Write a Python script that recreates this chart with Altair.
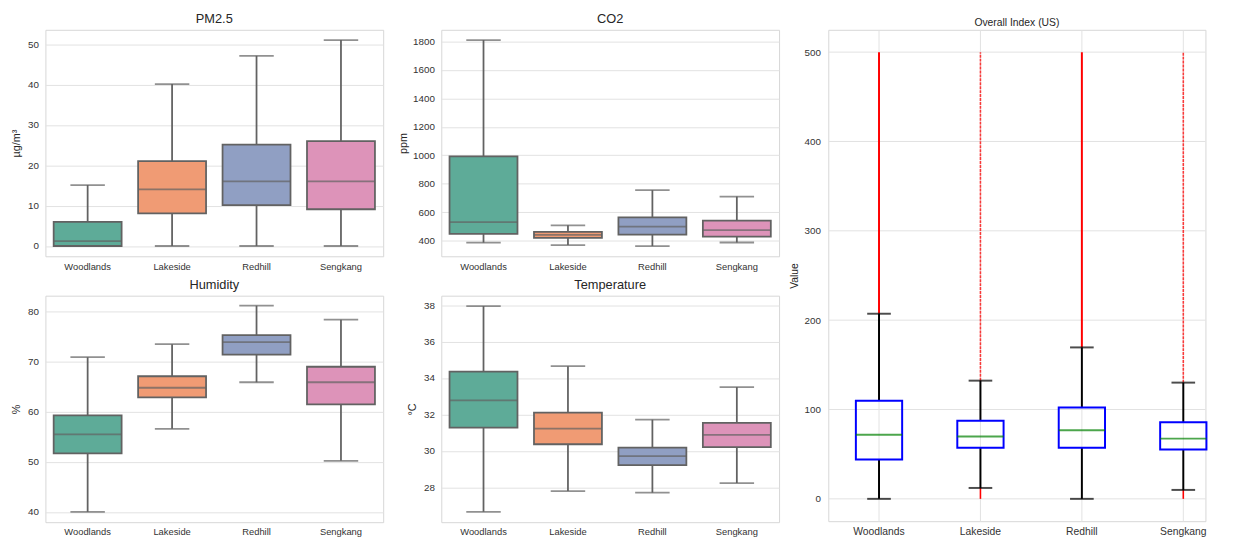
import altair as alt
import pandas as pd

stations = ["Woodlands", "Lakeside", "Redhill", "Sengkang"]
box_colors = ["#5eab98", "#f09b74", "#909fc3", "#dd93b9"]

# PM2.5 (µg/m³)
pm25_min = [0, 0, 0, 0]
pm25_q1 = [0, 8.1, 10.1, 9.1]
pm25_med = [1.2, 14.0, 16.0, 16.0]
pm25_q3 = [6.0, 21.0, 25.1, 26.0]
pm25_max = [15.1, 40.1, 47.1, 51.0]
pm25_ticks = [0, 10, 20, 30, 40, 50]

# CO2 (ppm)
co2_min = [386, 369, 362, 387]
co2_q1 = [447, 420, 443, 429]
co2_med = [530, 440, 499, 474]
co2_q3 = [992, 461, 564, 541]
co2_max = [1810, 508, 755, 710]
co2_ticks = [400, 600, 800, 1000, 1200, 1400, 1600, 1800]

# Humidity (%)
hum_min = [40.0, 56.6, 65.9, 50.2]
hum_q1 = [51.7, 62.9, 71.4, 61.5]
hum_med = [55.5, 64.8, 73.9, 65.9]
hum_q3 = [59.3, 67.1, 75.3, 69.0]
hum_max = [70.9, 73.5, 81.2, 78.4]
hum_ticks = [40, 50, 60, 70, 80]

# Temperature (°C)
temp_min = [26.65, 27.79, 27.70, 28.23]
temp_q1 = [31.27, 30.36, 29.21, 30.20]
temp_med = [32.77, 31.22, 29.71, 30.88]
temp_q3 = [34.35, 32.10, 30.18, 31.53]
temp_max = [37.95, 34.65, 31.71, 33.50]
temp_ticks = [28, 30, 32, 34, 36, 38]

# Overall Index (US)
aqi_min = [0, 12.2, 0, 10.0]
aqi_q1 = [44.1, 57.3, 57.3, 55.2]
aqi_med = [71.7, 69.9, 76.7, 67.4]
aqi_q3 = [109.7, 87.5, 102.2, 85.7]
aqi_max = [207.2, 132.3, 169.5, 130.1]
aqi_outlier_top = [500, 500, 500, 500]
aqi_outlier_bottom = [0, 0, 0, 0]
aqi_ticks = [0, 100, 200, 300, 400, 500]
dense_outlier_stations = ["Woodlands", "Redhill"]

GRAY = "#626262"
FONT = "Liberation Sans"
LW = 1.8
GRID = "#e2e2e2"


def seaborn_panel(title, unit, mins, q1s, meds, q3s, maxs, domain, ticks, extent, height):
    df = pd.DataFrame({"station": stations, "lo": mins, "q1": q1s,
                       "med": meds, "q3": q3s, "hi": maxs})
    x = alt.X("station:N", sort=stations, title=None,
              scale=alt.Scale(paddingInner=0, paddingOuter=0),
              axis=alt.Axis(labelAngle=0, ticks=False, domain=False, grid=False,
                            labelPadding=5, labelFontSize=9.5))
    yscale = alt.Scale(domain=domain, nice=False, zero=False)
    yaxis = alt.Axis(values=ticks, format="d", ticks=False, domain=False, grid=True,
                     labelPadding=7, labelFontSize=10, minExtent=extent, maxExtent=extent,
                     titlePadding=4, titleFontSize=11)

    def Y(f):
        return alt.Y(f, scale=yscale, axis=yaxis, title=unit)

    base = alt.Chart(df).encode(x=x)
    whisker = base.mark_rule(color=GRAY, strokeWidth=LW).encode(y=Y("lo:Q"), y2="hi:Q")
    box = base.mark_bar(size=69, stroke=GRAY, strokeWidth=LW).encode(
        y=Y("q1:Q"), y2="q3:Q",
        color=alt.Color("station:N", scale=alt.Scale(domain=stations, range=box_colors), legend=None))
    med = base.mark_tick(size=69, thickness=LW, color=GRAY, orient="horizontal").encode(y=Y("med:Q"))
    cap_lo = base.mark_tick(size=35, thickness=LW, color=GRAY, orient="horizontal").encode(y=Y("lo:Q"))
    cap_hi = base.mark_tick(size=35, thickness=LW, color=GRAY, orient="horizontal").encode(y=Y("hi:Q"))
    return alt.layer(whisker, box, med, cap_lo, cap_hi).properties(
        width=343, height=height,
        title=alt.TitleParams(title, fontSize=13, offset=4, anchor="middle", fontWeight="normal"))


H = 230
pm = seaborn_panel("PM2.5", "µg/m³", pm25_min, pm25_q1, pm25_med, pm25_q3, pm25_max,
                   [-2.55, 53.55], pm25_ticks, 20, H)
co2 = seaborn_panel("CO2", "ppm", co2_min, co2_q1, co2_med, co2_q3, co2_max,
                    [290, 1882], co2_ticks, 29, H)
hum = seaborn_panel("Humidity", "%", hum_min, hum_q1, hum_med, hum_q3, hum_max,
                    [37.94, 83.2], hum_ticks, 20, H)
temp = seaborn_panel("Temperature", "°C", temp_min, temp_q1, temp_med, temp_q3, temp_max,
                     [26.08, 38.52], temp_ticks, 20, H)

# Overall index panel (matplotlib-style boxplot)
RW = 383
adf = pd.DataFrame({"station": stations, "lo": aqi_min, "q1": aqi_q1, "med": aqi_med,
                    "q3": aqi_q3, "hi": aqi_max, "otop": aqi_outlier_top,
                    "obot": aqi_outlier_bottom})
gdf = pd.DataFrame({"tick": aqi_ticks})
ax = alt.X("station:N", sort=stations, title=None,
           scale=alt.Scale(range=[0, 412], paddingInner=0, paddingOuter=0),
           axis=alt.Axis(labelAngle=0, ticks=False, domain=False, grid=True, bandPosition=0.5,
                         labelPadding=6, labelFontSize=10.5))
ayscale = alt.Scale(domain=[-25, 525], nice=False, zero=False)
ayaxis = alt.Axis(values=aqi_ticks, ticks=False, domain=False, grid=False, labelPadding=8,
                  labelFontSize=10, minExtent=25, maxExtent=25, titlePadding=4, titleFontSize=10.5)


def AY(f):
    return alt.Y(f, scale=ayscale, axis=ayaxis, title="Value")


hgrid = alt.Chart(gdf).mark_rule(color=GRID, strokeWidth=1).encode(
    y=AY("tick:Q"), x=alt.value(0), x2=alt.value(RW))
abase = alt.Chart(adf).encode(x=ax)
dense = alt.FieldOneOfPredicate(field="station", oneOf=dense_outlier_stations)
sparse = alt.LogicalNotPredicate(**{"not": dense})
out_hi_d = abase.transform_filter(dense).mark_rule(color="#ff0000", strokeWidth=2).encode(
    y=AY("hi:Q"), y2="otop:Q")
out_hi_s = abase.transform_filter(sparse).mark_rule(
    color="#ff0000", strokeWidth=1.6, opacity=0.75, strokeDash=[3, 1]).encode(y=AY("hi:Q"), y2="otop:Q")
out_lo = abase.mark_rule(color="#ff0000", strokeWidth=1.6).encode(y=AY("obot:Q"), y2="lo:Q")
wh_lo = abase.mark_rule(color="black", strokeWidth=2).encode(y=AY("lo:Q"), y2="q1:Q")
wh_hi = abase.mark_rule(color="black", strokeWidth=2).encode(y=AY("q3:Q"), y2="hi:Q")
abox = abase.mark_bar(size=47, fillOpacity=0, stroke="#0000ff", strokeWidth=2).encode(
    y=AY("q1:Q"), y2="q3:Q")
amed = abase.mark_tick(size=47, thickness=2, color="#008000", orient="horizontal").encode(y=AY("med:Q"))
acap_lo = abase.mark_tick(size=24, thickness=2, color="black", orient="horizontal").encode(y=AY("lo:Q"))
acap_hi = abase.mark_tick(size=24, thickness=2, color="black", orient="horizontal").encode(y=AY("hi:Q"))
overall = alt.layer(hgrid, out_hi_d, out_hi_s, out_lo, wh_lo, wh_hi, abox, amed,
                    acap_lo, acap_hi).properties(
    width=RW, height=499,
    title=alt.TitleParams("Overall Index (US)", fontSize=10.5, offset=1, anchor="middle",
                          fontWeight="normal"))

left = alt.vconcat(alt.hconcat(pm, co2, spacing=13), alt.hconcat(hum, temp, spacing=22), spacing=7)
chart = alt.hconcat(left, overall, spacing=9).properties(
    padding={"left": 2, "top": 0, "right": 0, "bottom": 0},
    background="white",
).configure_view(
    stroke="#d6d6d6", strokeWidth=1
).configure_axis(
    gridColor=GRID, gridWidth=1, labelColor="#333333", titleColor="#262626",
    labelFont=FONT, titleFont=FONT, titleFontWeight="normal"
).configure_title(
    font=FONT, color="#262626"
)

chart.save("out.html", embed_options={"renderer": "svg", "actions": False})
